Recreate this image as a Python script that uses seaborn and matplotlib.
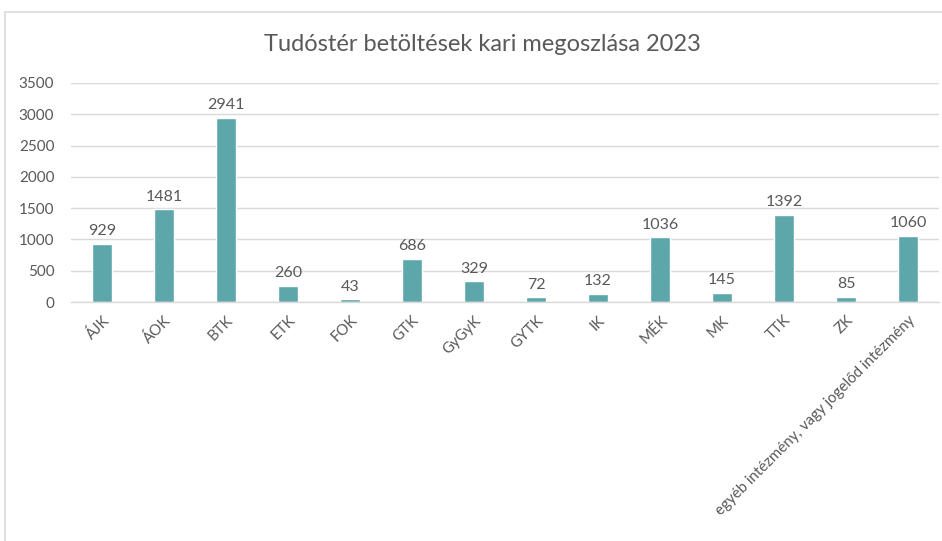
import pandas as pd
import matplotlib.pyplot as plt
import matplotlib.patches as patches
import seaborn as sns

# Data
karok = ["ÁJK", "ÁOK", "BTK", "ETK", "FOK", "GTK", "GyGyK", "GYTK", "IK", "MÉK",
         "MK", "TTK", "ZK", "egyéb intézmény, vagy jogelőd intézmény"]
betoltesek = [929, 1481, 2941, 260, 43, 686, 329, 72, 132, 1036, 145, 1392, 85, 1060]
y_ticks = [0, 500, 1000, 1500, 2000, 2500, 3000, 3500]

df = pd.DataFrame({"Kar": karok, "Betöltések": betoltesek})

sns.set_theme(style="white")
plt.rcParams["font.family"] = ["Lato", "DejaVu Sans"]

text_color = "#595959"
bar_color = "#5DA7AB"

fig = plt.figure(figsize=(9.42, 5.41), dpi=100)
ax = fig.add_axes([71 / 942, 239 / 541, 868 / 942, 219 / 541])

sns.barplot(data=df, x="Kar", y="Betöltések", color=bar_color, width=0.31,
            saturation=1, ax=ax)

# Data labels
for i, v in enumerate(betoltesek):
    ax.text(i, v + 90, str(v), ha="center", va="bottom", fontsize=11.5, color=text_color)

ax.set_ylim(0, 3500)
ax.set_yticks(y_ticks)
ax.set_xlim(-0.5, len(karok) - 0.5)
ax.yaxis.grid(True, color="#D9D9D9", linewidth=1)
ax.set_axisbelow(True)
ax.set_xlabel("")
ax.set_ylabel("")
for s in ["top", "right", "left"]:
    ax.spines[s].set_visible(False)
ax.spines["bottom"].set_color("#D9D9D9")
ax.spines["bottom"].set_linewidth(1)
ax.tick_params(axis="both", length=0, colors=text_color)
ax.tick_params(axis="y", labelsize=11, pad=12)
ax.tick_params(axis="x", labelsize=10.8, pad=8)
plt.setp(ax.get_xticklabels(), rotation=45, ha="right", rotation_mode="anchor")

fig.text(482 / 942, 1 - 45 / 541, "Tudóstér betöltések kari megoszlása 2023",
         ha="center", va="center", fontsize=17, color=text_color)

# Chart border (Excel-like frame)
fig.patches.append(patches.Rectangle((5 / 942, -0.05), 1.0, 1 - 12 / 541 + 0.05,
                                     transform=fig.transFigure, fill=False,
                                     edgecolor="#D9D9D9", linewidth=1.2))

plt.savefig("out.png", dpi=100)
